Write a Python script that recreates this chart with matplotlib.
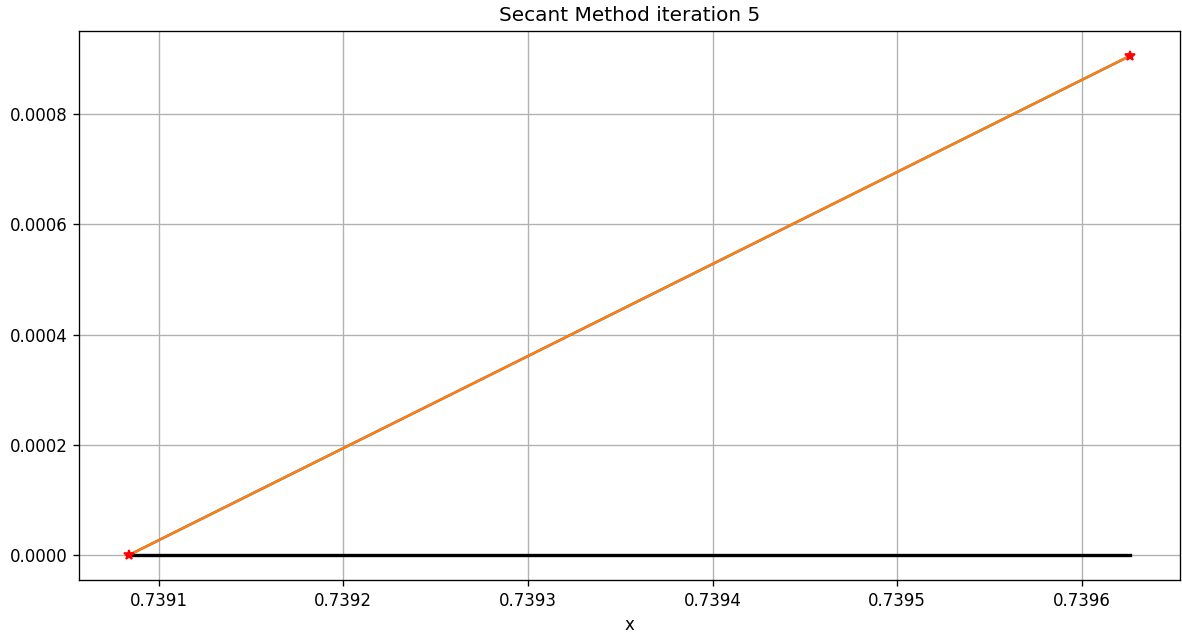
import matplotlib
matplotlib.use("Agg")
import matplotlib.pyplot as plt

# secant iterate endpoints and f(x) = x - cos(x) values there
x_pts = [0.739084, 0.739626]
y_pts = [0.0, 0.000906]

fig = plt.figure(figsize=(9.85, 5.2667), dpi=120)
ax = fig.add_axes([0.0668, 0.0823, 0.9315, 0.8687])

# zero line across the bracket
ax.plot(x_pts, [0, 0], 'k-', linewidth=2)
# secant line through the two points
ax.plot(x_pts, y_pts, color='tab:blue')
ax.plot(x_pts, y_pts, color='tab:orange')
ax.plot(x_pts, y_pts, 'r*')

ax.set_title('Secant Method iteration 5')
ax.set_xlabel('x')
ax.grid()

fig.savefig('out.png')
